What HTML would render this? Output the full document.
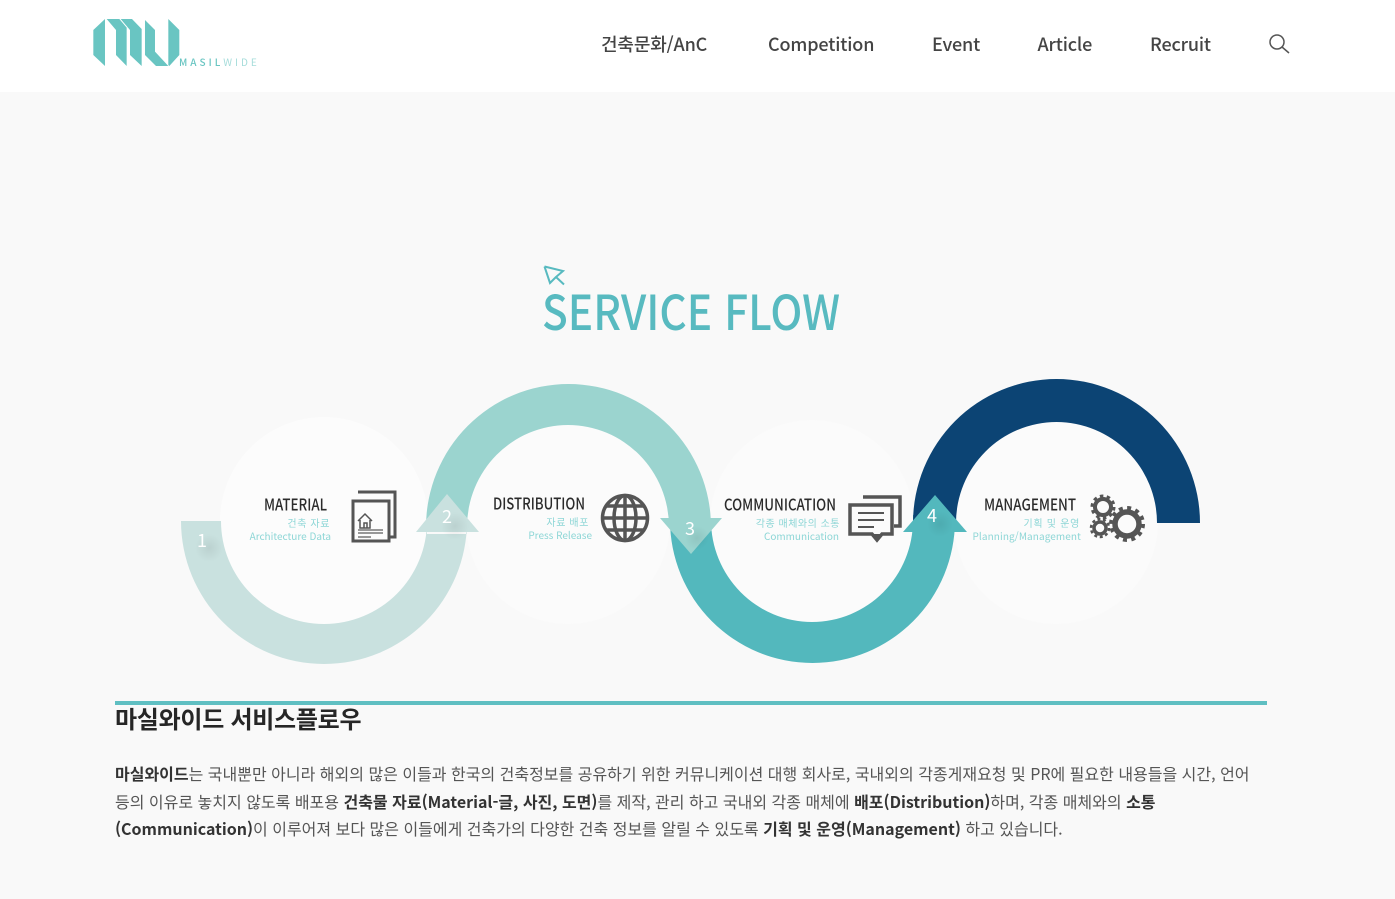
<!DOCTYPE html>
<html lang="ko">
<head>
<meta charset="utf-8">
<title>Service Flow</title>
<style>
html,body{margin:0;padding:0;width:1395px;height:899px;overflow:hidden;background:#f9f9f9}
body{position:relative;font-family:"Noto Sans CJK KR","Liberation Sans",sans-serif}
.hdr{position:absolute;left:0;top:0;width:1395px;height:92px;background:#fff}
svg.d{position:absolute;left:0;top:0}
.n{position:absolute;top:31px;font-size:18px;line-height:27px;color:#444;font-weight:500;white-space:nowrap;letter-spacing:-.15px}
.l{position:absolute;left:115px;white-space:nowrap;font-size:16px;line-height:27px;color:#555}
.l b{font-weight:700;color:#333}
.rule{position:absolute;left:115px;top:701px;width:1152px;height:4px;background:#5fbfc2}
h2{position:absolute;left:115px;top:700px;margin:0;font-size:24px;line-height:36px;font-weight:700;color:#262626;white-space:nowrap;letter-spacing:-.28px}
</style>
</head>
<body>
<div class="hdr"></div>
<svg class="d" width="1395" height="899" viewBox="0 0 1395 899" xmlns="http://www.w3.org/2000/svg" font-family="'Noto Sans CJK KR','Liberation Sans',sans-serif">
<defs>
<radialGradient id="g"><stop offset="0" stop-color="#000" stop-opacity=".07"/><stop offset="1" stop-color="#000" stop-opacity="0"/></radialGradient>
</defs>
<!-- logo -->
<g transform="translate(80 5) scale(.3333)" fill="#69c5c2">
<polygon points="40,75 75,42 75,183 40,150"/>
<polygon points="80,42 118,42 140,68 140,183 108,150 108,75"/>
<polygon points="122,42 156,42 185,72 185,183 150,150 150,75"/>
<polygon points="195,45 225,75 225,140 265,183 228,183 195,150"/>
<polygon points="265,42 298,75 298,150 268,183 265,180"/>
</g>
<text x="179" y="66" font-size="10" letter-spacing="3" fill="#69c5c2" font-weight="500">MASIL<tspan font-weight="400" fill="#a5dcda">WIDE</tspan></text>
<!-- search -->
<circle cx="1277" cy="42" r="7" fill="none" stroke="#555" stroke-width="1.5"/>
<line x1="1282" y1="47" x2="1289" y2="53" stroke="#555" stroke-width="1.5"/>
<!-- title mark -->
<path d="M544.500 266.500 L563 271 L556 277 L564 284.500 M544.500 266.500 L550 283 L556 277" fill="none" stroke="#58bac0" stroke-width="2"/>
<text x="542" y="330" font-size="48" font-weight="500" fill="#58bac0" textLength="298" lengthAdjust="spacingAndGlyphs">SERVICE FLOW</text>
<!-- circles -->
<circle cx="324" cy="521" r="104" fill="#fcfcfc"/>
<circle cx="568" cy="522" r="102" fill="#fbfbfb"/>
<circle cx="812" cy="522" r="102" fill="#fbfbfb"/>
<circle cx="1056" cy="522" r="102" fill="#fbfbfb"/>
<!-- arcs -->
<path d="M181 521 A143 143 0 0 0 467 521 L467 534 L427 534 L427 521 A103 103 0 0 1 221 521 Z" fill="#c9e1df"/>
<path d="M426 527 A142.500 143 0 0 1 711 527 L669 527 A101 102 0 0 0 467 527 Z" fill="#9bd4cf"/>
<path d="M670 520 A142.500 143 0 0 0 955 520 L955 515 L913 515 L913 520 A101 102 0 0 1 711 520 Z" fill="#53b8bd"/>
<path d="M913 523 A143.500 144 0 0 1 1200 523 L1157 523 A100.500 101 0 0 0 956 523 Z" fill="#0c4474"/>
<!-- arrows -->
<polygon points="447,494 479,532 416,532" fill="#c9e1df"/>
<polygon points="660,518 722,518 691,554" fill="#9bd4cf"/>
<polygon points="935,495 967,532 903,532" fill="#53b8bd"/>
<circle cx="209" cy="548" r="14" fill="url(#g)"/>
<circle cx="455" cy="526" r="14" fill="url(#g)"/>
<circle cx="697" cy="538" r="12" fill="url(#g)"/>
<circle cx="940" cy="524" r="13" fill="url(#g)"/>
<g fill="#fff" font-size="18" text-anchor="middle">
<text x="202" y="547">1</text>
<text x="447" y="523">2</text>
<text x="690" y="535">3</text>
<text x="932" y="522">4</text>
</g>
<!-- labels -->
<g font-size="16" fill="#2b2b2b" text-anchor="end" font-weight="500">
<text x="327" y="510.500" textLength="63" lengthAdjust="spacingAndGlyphs">MATERIAL</text>
<text x="585" y="509.500" textLength="92" lengthAdjust="spacingAndGlyphs">DISTRIBUTION</text>
<text x="836" y="510.500" textLength="112" lengthAdjust="spacingAndGlyphs">COMMUNICATION</text>
<text x="1076" y="510.500" textLength="92" lengthAdjust="spacingAndGlyphs">MANAGEMENT</text>
</g>
<g font-size="10" fill="#8dd6d6" text-anchor="end">
<text x="330" y="527" letter-spacing=".6">건축 자료</text>
<text x="331" y="540">Architecture Data</text>
<text x="589" y="526" letter-spacing=".6">자료 배포</text>
<text x="592" y="539">Press Release</text>
<text x="840" y="527" letter-spacing=".5">각종 매체와의 소통</text>
<text x="839" y="540">Communication</text>
<text x="1080" y="527" letter-spacing=".7">기획 및 운영</text>
<text x="1081" y="540" letter-spacing=".1">Planning/Management</text>
</g>
<!-- doc icon -->
<g fill="none" stroke="#555">
<path d="M358 492 H395 V537 H390" stroke-width="3"/>
<path d="M353 501 H389 V541 H353 Z" stroke-width="3"/>
<path d="M358 521 L365 514 L372 521 M360 520 V528 H370 V520 M364 528 V523 H367 V528" stroke-width="1.500"/>
<path d="M358 530 H383 M358 533 H383 M358 537 H371" stroke-width="1.500" stroke="#777"/>
</g>
<!-- globe -->
<g fill="none" stroke="#555" stroke-width="3.500">
<circle cx="625" cy="518" r="22.500"/>
<ellipse cx="625" cy="518" rx="11" ry="22.500"/>
<line x1="625" y1="495" x2="625" y2="541"/>
<line x1="602" y1="518" x2="648" y2="518"/>
<path d="M606 506 H644 M606 530 H644"/>
</g>
<!-- chat -->
<g fill="none" stroke="#555" stroke-width="3.500">
<path d="M863 497 H900 V526 H894"/>
<path d="M850 505 H892 V534 H882 L877 540 L872 534 H850 Z"/>
<path d="M858 513 H884 M858 520 H884 M858 527 H874" stroke-width="2"/>
</g>
<path d="M871 534 H883 L877 542 Z" fill="#555"/>
<!-- gears -->
<g fill="none" stroke="#555">
<circle cx="1103" cy="507" r="8" stroke-width="4"/>
<circle cx="1103" cy="507" r="11" stroke-width="3" stroke-dasharray="3.500 3.410"/>
<circle cx="1100" cy="528" r="6" stroke-width="3.500"/>
<circle cx="1100" cy="528" r="9" stroke-width="2.500" stroke-dasharray="3 2.650"/>
<circle cx="1127" cy="524" r="12" stroke-width="5.500"/>
<circle cx="1127" cy="524" r="16" stroke-width="4" stroke-dasharray="4 4.380"/>
</g>
</svg>
<div class="n" style="left:601px">건축문화/AnC</div>
<div class="n" style="left:768px">Competition</div>
<div class="n" style="left:932px">Event</div>
<div class="n" style="left:1037.500px">Article</div>
<div class="n" style="left:1150px">Recruit</div>
<div class="rule"></div>
<h2>마실와이드 서비스플로우</h2>
<div class="l" style="top:760px"><b>마실와이드</b>는 국내뿐만 아니라 해외의 많은 이들과 한국의 건축정보를 공유하기 위한 커뮤니케이션 대행 회사로, 국내외의 각종게재요청 및 PR에 필요한 내용들을 시간, 언어</div>
<div class="l" style="top:788px">등의 이유로 놓치지 않도록 배포용 <b>건축물 자료(Material-글, 사진, 도면)</b>를 제작, 관리 하고 국내외 각종 매체에 <b>배포(Distribution)</b>하며, 각종 매체와의 <b>소통</b></div>
<div class="l" style="top:815px"><b>(Communication)</b>이 이루어져 보다 많은 이들에게 건축가의 다양한 건축 정보를 알릴 수 있도록 <b>기획 및 운영(Management)</b> 하고 있습니다.</div>
</body>
</html>
